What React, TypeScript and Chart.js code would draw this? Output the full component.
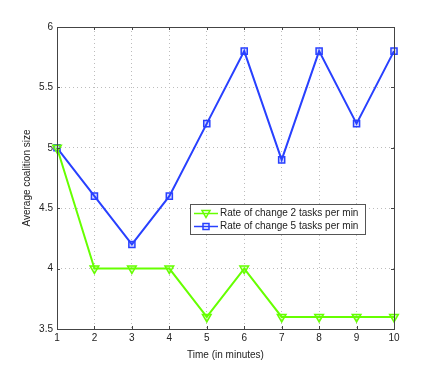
import React, { useEffect, useRef } from "react";
import { Chart, registerables } from "chart.js";

Chart.register(...registerables);

const timeMinutes = [1, 2, 3, 4, 5, 6, 7, 8, 9, 10];
const rate2Values = [5, 4, 4, 4, 3.6, 4, 3.6, 3.6, 3.6, 3.6];
const rate5Values = [5, 4.6, 4.2, 4.6, 5.2, 5.8, 4.9, 5.8, 5.2, 5.8];
const seriesLabels = ["Rate of change 2 tasks per min", "Rate of change 5 tasks per min"];
const xTitle = "Time (in minutes)";
const yTitle = "Average coalition size";

const GREEN = "rgb(102,255,0)";
const BLUE = "rgb(40,64,255)";
const FONT = "'Liberation Sans', Arial, Helvetica, sans-serif";

const framePlugin = {
  id: "matlabFrame",
  afterDraw(chart: any) {
    const { ctx, chartArea } = chart;
    const { left, right, top, bottom } = chartArea;
    const xs = chart.scales.x;
    const ys = chart.scales.y;
    ctx.save();
    // box
    ctx.strokeStyle = "#444";
    ctx.lineWidth = 1;
    ctx.setLineDash([]);
    ctx.strokeRect(Math.round(left) + 0.5, Math.round(top) + 0.5, Math.round(right - left), Math.round(bottom - top));
    // inward ticks
    const tl = 3;
    ctx.beginPath();
    xs.ticks.forEach((t: any) => {
      const px = Math.round(xs.getPixelForValue(t.value)) + 0.5;
      ctx.moveTo(px, bottom);
      ctx.lineTo(px, bottom - tl);
      ctx.moveTo(px, top);
      ctx.lineTo(px, top + tl);
    });
    ys.ticks.forEach((t: any) => {
      const py = Math.round(ys.getPixelForValue(t.value)) + 0.5;
      ctx.moveTo(left, py);
      ctx.lineTo(left + tl, py);
      ctx.moveTo(right, py);
      ctx.lineTo(right - tl, py);
    });
    ctx.stroke();

    // axis titles
    ctx.fillStyle = "#222";
    ctx.font = `10px ${FONT}`;
    ctx.textAlign = "center";
    ctx.textBaseline = "middle";
    ctx.fillText(xTitle, (left + right) / 2, 355);
    ctx.save();
    ctx.translate(27, (top + bottom) / 2);
    ctx.rotate(-Math.PI / 2);
    ctx.fillText(yTitle, 0, 0);
    ctx.restore();

    // legend
    const lx = 190.5, ly = 204.5, lw = 175, lh = 30;
    ctx.fillStyle = "#fff";
    ctx.fillRect(lx, ly, lw, lh);
    ctx.strokeStyle = "#555";
    ctx.strokeRect(lx, ly, lw, lh);
    const rows = [
      { y: 213.5, color: GREEN, marker: "tri", label: seriesLabels[0] },
      { y: 226.5, color: BLUE, marker: "sq", label: seriesLabels[1] },
    ];
    rows.forEach((r) => {
      ctx.strokeStyle = r.color;
      ctx.lineWidth = 1.5;
      ctx.beginPath();
      ctx.moveTo(194, r.y);
      ctx.lineTo(218, r.y);
      ctx.stroke();
      const cx = 206;
      ctx.beginPath();
      if (r.marker === "tri") {
        ctx.moveTo(cx - 4, r.y - 3);
        ctx.lineTo(cx + 4, r.y - 3);
        ctx.lineTo(cx, r.y + 4);
        ctx.closePath();
      } else {
        ctx.rect(cx - 3, r.y - 3, 6, 6);
      }
      ctx.stroke();
      ctx.fillStyle = "#222";
      ctx.textAlign = "left";
      ctx.fillText(r.label, 220, r.y);
    });
    ctx.restore();
  },
};

export default function App() {
  const ref = useRef<HTMLCanvasElement | null>(null);
  useEffect(() => {
    if (!ref.current) return;
    const chart = new Chart(ref.current, {
      type: "line",
      data: {
        datasets: [
          {
            label: seriesLabels[0],
            data: timeMinutes.map((t, i) => ({ x: t, y: rate2Values[i] })),
            borderColor: GREEN,
            backgroundColor: "rgba(102,255,0,0.25)",
            borderWidth: 2,
            pointStyle: "triangle",
            rotation: 180,
            pointRadius: 5,
            pointBorderWidth: 1.5,
            pointBorderColor: GREEN,
            pointBackgroundColor: "rgba(102,255,0,0.25)",
            tension: 0,
            clip: false,
          },
          {
            label: seriesLabels[1],
            data: timeMinutes.map((t, i) => ({ x: t, y: rate5Values[i] })),
            borderColor: BLUE,
            backgroundColor: "rgba(40,64,255,0.2)",
            borderWidth: 2,
            pointStyle: "rect",
            pointRadius: 4.3,
            pointBorderWidth: 1.5,
            pointBorderColor: BLUE,
            pointBackgroundColor: "rgba(40,64,255,0.2)",
            tension: 0,
            clip: false,
          },
        ],
      },
      options: {
        animation: false,
        responsive: true,
        maintainAspectRatio: false,
        layout: { padding: { left: 0, top: 27, right: 42, bottom: 0 } },
        plugins: { legend: { display: false }, tooltip: { enabled: false } },
        scales: {
          x: {
            type: "linear",
            min: 1,
            max: 10,
            afterFit: (s: any) => {
              s.height = 42;
            },
            ticks: {
              stepSize: 1,
              padding: 3,
              color: "#222",
              font: { family: FONT, size: 10 },
              maxRotation: 0,
            },
            grid: { color: "#bdbdbd", lineWidth: 1, drawTicks: false },
            border: { display: false, dash: [1, 3] },
          },
          y: {
            type: "linear",
            min: 3.5,
            max: 6,
            afterFit: (s: any) => {
              s.width = 57;
            },
            ticks: {
              stepSize: 0.5,
              padding: 4,
              color: "#222",
              font: { family: FONT, size: 10 },
              callback: (v: any) => String(Number(v)),
            },
            grid: { color: "#bdbdbd", lineWidth: 1, drawTicks: false },
            border: { display: false, dash: [1, 3] },
          },
        },
      },
      plugins: [framePlugin],
    });
    return () => chart.destroy();
  }, []);
  return (
    <div style={{ position: "absolute", left: 0, top: 0, width: 436, height: 371, background: "#fff" }}>
      <canvas ref={ref} />
    </div>
  );
}
